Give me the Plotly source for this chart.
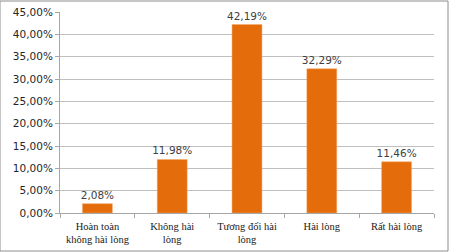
import plotly.graph_objects as go

categories = ["Hoàn toàn<br>không hài lòng", "Không hài<br>lòng", "Tương đối hài<br>lòng", "Hài lòng", "Rất hài lòng"]
values = [2.08, 11.98, 42.19, 32.29, 11.46]
tick_vals = [0, 5, 10, 15, 20, 25, 30, 35, 40, 45]
tick_text = ["0,00%", "5,00%", "10,00%", "15,00%", "20,00%", "25,00%", "30,00%", "35,00%", "40,00%", "45,00%"]

fig = go.Figure(go.Bar(
    x=categories, y=values,
    marker=dict(color="#E46C0A", line=dict(color="#F6A96A", width=0.5)),
    width=0.4,
    texttemplate="%{y:.2f}%", textposition="outside",
    textfont=dict(family="DejaVu Sans", size=10.5, color="#404040"),
    constraintext="none",
    cliponaxis=False,
))

fig.update_layout(
    width=449, height=252,
    margin=dict(l=60, r=15, t=12, b=39),
    paper_bgcolor="white", plot_bgcolor="white",
    separators=",.",
    showlegend=False,
    xaxis=dict(
        showline=True, linecolor="#A6A6A6", linewidth=1,
        ticks="outside", tickson="boundaries", ticklen=4, tickcolor="#A6A6A6",
        tickfont=dict(family="Liberation Serif", size=10.5, color="#1a1a1a"),
        ticklabelstandoff=3,
        showgrid=False, automargin=False,
    ),
    yaxis=dict(
        range=[0, 45], tickvals=tick_vals, ticktext=tick_text,
        showline=True, linecolor="#A6A6A6", linewidth=1,
        ticks="outside", ticklen=4, tickcolor="#A6A6A6",
        showgrid=True, gridcolor="#BFBFBF", gridwidth=1,
        tickfont=dict(family="DejaVu Sans", size=10.5, color="#262626"),
        zeroline=False, automargin=False,
    ),
    shapes=[dict(type="rect", xref="paper", yref="paper",
                 x0=-60/374, x1=1+14/374, y0=-38/201, y1=1+11/201,
                 line=dict(color="#8C8C8C", width=1), fillcolor="rgba(0,0,0,0)")],
)

fig.write_html("out.html")
